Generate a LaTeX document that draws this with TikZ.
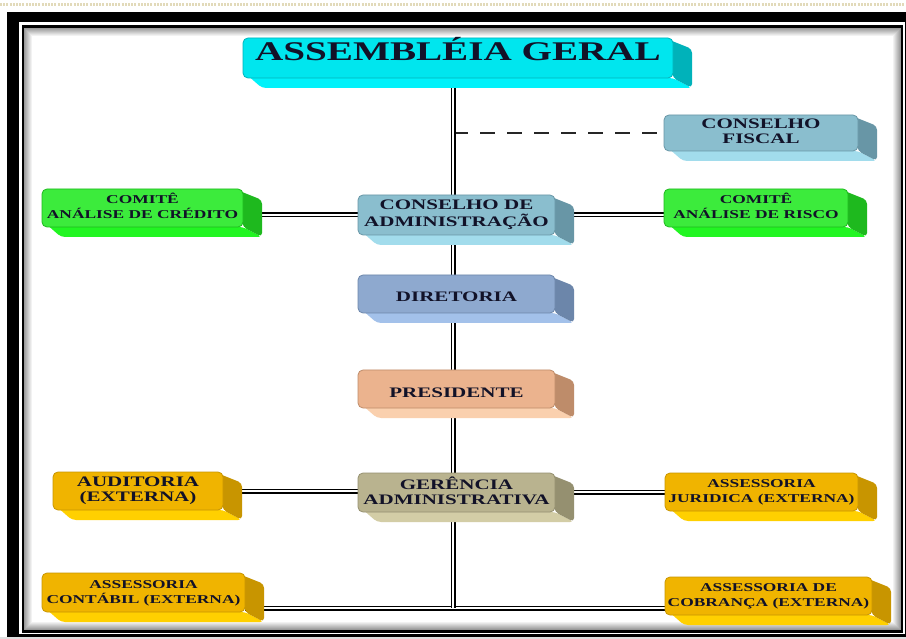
\documentclass[tikz,border=0pt]{standalone}
\usepackage{fontspec}
\setmainfont{Liberation Serif}
\usepackage{graphicx}

\definecolor{txt}{RGB}{18,18,40}
\definecolor{dotc}{RGB}{226,218,186}
\definecolor{cyanF}{RGB}{0,230,238}   \definecolor{cyanS}{RGB}{0,178,186}   \definecolor{cyanB}{RGB}{0,242,250}
\definecolor{bluF}{RGB}{138,190,206}  \definecolor{bluS}{RGB}{104,150,166}  \definecolor{bluB}{RGB}{162,220,236}
\definecolor{grnF}{RGB}{60,235,60}    \definecolor{grnS}{RGB}{30,185,30}    \definecolor{grnB}{RGB}{34,245,34}
\definecolor{dirF}{RGB}{142,169,207}  \definecolor{dirS}{RGB}{108,134,170}  \definecolor{dirB}{RGB}{163,193,234}
\definecolor{preF}{RGB}{235,179,142}  \definecolor{preS}{RGB}{190,140,106}  \definecolor{preB}{RGB}{250,208,174}
\definecolor{gerF}{RGB}{185,179,143}  \definecolor{gerS}{RGB}{149,144,112}  \definecolor{gerB}{RGB}{211,205,166}
\definecolor{golF}{RGB}{240,180,0}    \definecolor{golS}{RGB}{200,149,0}    \definecolor{golB}{RGB}{255,208,0}

\pgfdeclarelayer{frame}
\pgfdeclarelayer{lines}
\pgfsetlayers{frame,lines,main}

\tikzstyle{bF}=[rectangle,rounded corners=5pt,inner sep=0pt,line width=0.8pt,text=txt,font=\bfseries]
\tikzstyle{dbl}=[draw=black,line width=1.5pt,double=white,double distance=2pt]
\tikzstyle{dsh}=[draw=black!85,line width=2.6pt,dash pattern=on 15pt off 12pt]
\tikzstyle{dotline}=[draw=dotc,line width=2.8pt,dash pattern=on 2pt off 1.2pt]

\newcommand{\fB}{\fontsize{27}{30}\selectfont}
\newcommand{\fM}{\fontsize{14.5}{15}\selectfont}
\newcommand{\fS}{\fontsize{12}{15}\selectfont}
\newcommand{\wt}[2]{\scalebox{1.45}[1]{#1\begin{tabular}{@{}c@{}}#2\end{tabular}}}
% name, x1, y1, x2, y2, colour, font, text
\newcommand{\blok}[8]{%
  \fill[#6B,rounded corners=4pt] (#2+3,#5-4) -- (#2+19,#5+10) -- (#4+19,#5+10) -- (#4,#5) -- cycle;
  \fill[#6S,rounded corners=4pt] (#4-6,#3+1) -- (#4+19,#3+11) -- (#4+19,#5+10) -- (#4,#5) -- cycle;
  \node[bF,fill=#6F,draw=#6S,minimum width=#4-#2,minimum height=#5-#3] (#1)
    at ({(#2+#4)/2},{(#3+#5)/2}) {\wt{#7}{#8}};}

\begin{document}
\begin{tikzpicture}[x=1pt,y=-1pt]
    \useasboundingbox (0,0) rectangle (906,639);
    \begin{pgfonlayer}{frame}
    \draw[dotline] (0,4.8) -- (906,4.8);
    \fill[gray!25] (0,637) rectangle (906,639);
    \fill[black] (7.3,12.3) rectangle (920,636.7);
    \fill[white] (19,22.3) rectangle (905,634.3);
    \fill[black] (21.7,24.7) rectangle (903,632.7);
    \fill[white] (24,27.7) rectangle (901,630);
    \foreach \i in {1,...,8}{
        \pgfmathsetmacro\op{0.45*(1-\i/9)}
        \draw[black,opacity=\op,line width=1pt] (24+\i-0.5,27.7+\i-0.5) rectangle (901-\i+0.5,630-\i+0.5);
    }
    \end{pgfonlayer}

    \blok{ag}{243}{38}{673}{78}{cyan}{\fB}{\raisebox{3pt}[0pt][0pt]{ASSEMBLÉIA GERAL}}
    \blok{fis}{664}{115}{858}{151}{blu}{\fM}{CONSELHO\\FISCAL}
    \blok{cred}{42}{189}{243}{227}{grn}{\fS}{COMITÊ\\ANÁLISE DE CRÉDITO}
    \blok{adm}{358}{195}{555}{235}{blu}{\fM}{CONSELHO DE\\ADMINISTRAÇÃO}
    \blok{risc}{664}{189}{848}{227}{grn}{\fS}{COMITÊ\\ANÁLISE DE RISCO}
    \blok{dir}{358}{275}{555}{313}{dir}{\fM}{\raisebox{-5pt}[0pt][0pt]{DIRETORIA}}
    \blok{pres}{358}{370}{555}{408}{pre}{\fM}{\raisebox{-5pt}[0pt][0pt]{PRESIDENTE}}
    \blok{ger}{358}{473}{555}{512}{ger}{\fM}{GERÊNCIA\\ADMINISTRATIVA}
    \blok{aud}{53}{472}{223}{510}{gol}{\fM}{AUDITORIA\\(EXTERNA)}
    \blok{jur}{665}{473}{858}{511}{gol}{\fS}{ASSESSORIA\\JURIDICA (EXTERNA)}
    \blok{cont}{42}{573}{245}{612}{gol}{\fS}{ASSESSORIA\\CONTÁBIL (EXTERNA)}
    \blok{cob}{665}{577}{872}{615}{gol}{\fS}{ASSESSORIA DE\\COBRANÇA (EXTERNA)}

    \coordinate (tBot) at (453,608);
    \begin{pgfonlayer}{lines}
    \path
        (tBot |- fis.west) edge[dsh] (fis.west)
        (cred.east |- adm.west) edge[dbl] (adm.west)
        (adm.east) edge[dbl] (adm.east -| risc.west)
        (aud.east) edge[dbl] (aud.east -| ger.west)
        (ger.east |- jur.west) edge[dbl] (jur.west)
        (cont.east |- tBot) edge[dbl] (cob.west |- tBot)
        (ag.south -| tBot) edge[dbl] (tBot)
    ;
    \end{pgfonlayer}
\end{tikzpicture}
\end{document}
